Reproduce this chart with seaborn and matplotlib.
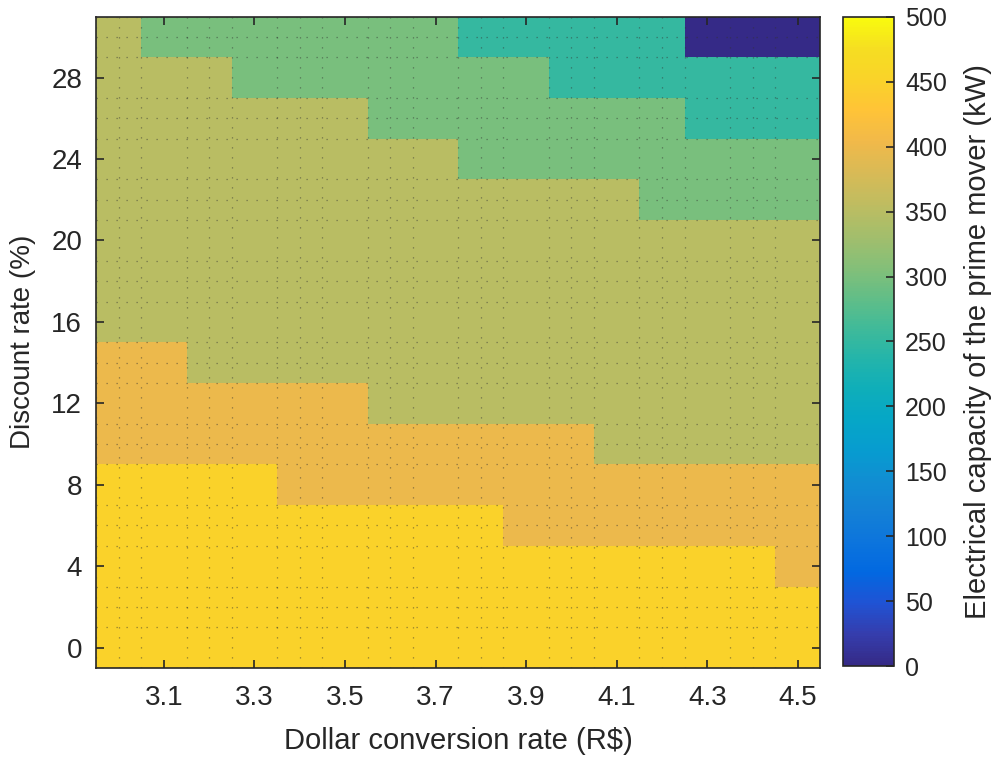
import matplotlib
matplotlib.use('Agg')
import matplotlib.pyplot as plt
import numpy as np
import pandas as pd
import seaborn as sns
from matplotlib.colors import LinearSegmentedColormap

# dollar conversion rate (columns) and discount rate (rows, top to bottom)
dollar_rate = [3.0, 3.1, 3.2, 3.3, 3.4, 3.5, 3.6, 3.7, 3.8, 3.9, 4.0, 4.1, 4.2, 4.3, 4.4, 4.5]
discount_rate = [30, 28, 26, 24, 22, 20, 18, 16, 14, 12, 10, 8, 6, 4, 2, 0]

# electrical capacity of the prime mover (kW), one row per discount rate
capacity_kw = [
    [350, 300, 300, 300, 300, 300, 300, 300, 250, 250, 250, 250, 250, 0, 0, 0],
    [350, 350, 350, 300, 300, 300, 300, 300, 300, 300, 250, 250, 250, 250, 250, 250],
    [350, 350, 350, 350, 350, 350, 300, 300, 300, 300, 300, 300, 300, 250, 250, 250],
    [350, 350, 350, 350, 350, 350, 350, 350, 300, 300, 300, 300, 300, 300, 300, 300],
    [350, 350, 350, 350, 350, 350, 350, 350, 350, 350, 350, 350, 300, 300, 300, 300],
    [350, 350, 350, 350, 350, 350, 350, 350, 350, 350, 350, 350, 350, 350, 350, 350],
    [350, 350, 350, 350, 350, 350, 350, 350, 350, 350, 350, 350, 350, 350, 350, 350],
    [350, 350, 350, 350, 350, 350, 350, 350, 350, 350, 350, 350, 350, 350, 350, 350],
    [400, 400, 350, 350, 350, 350, 350, 350, 350, 350, 350, 350, 350, 350, 350, 350],
    [400, 400, 400, 400, 400, 400, 350, 350, 350, 350, 350, 350, 350, 350, 350, 350],
    [400, 400, 400, 400, 400, 400, 400, 400, 400, 400, 400, 350, 350, 350, 350, 350],
    [450, 450, 450, 450, 400, 400, 400, 400, 400, 400, 400, 400, 400, 400, 400, 400],
    [450, 450, 450, 450, 450, 450, 450, 450, 450, 400, 400, 400, 400, 400, 400, 400],
    [450, 450, 450, 450, 450, 450, 450, 450, 450, 450, 450, 450, 450, 450, 450, 400],
    [450, 450, 450, 450, 450, 450, 450, 450, 450, 450, 450, 450, 450, 450, 450, 450],
    [450, 450, 450, 450, 450, 450, 450, 450, 450, 450, 450, 450, 450, 450, 450, 450],
]

x_tick_values = [3.1, 3.3, 3.5, 3.7, 3.9, 4.1, 4.3, 4.5]
y_tick_values = [0, 4, 8, 12, 16, 20, 24, 28]
cbar_ticks = [0, 50, 100, 150, 200, 250, 300, 350, 400, 450, 500]

# MATLAB parula, every third entry of the 64-colour table
parula_rgb = [
    (0.2081, 0.1663, 0.5292), (0.2081, 0.2386, 0.6771), (0.1253, 0.3242, 0.8303),
    (0.0060, 0.4086, 0.8828), (0.0498, 0.4586, 0.8641), (0.0779, 0.5040, 0.8384),
    (0.0641, 0.5570, 0.8240), (0.0265, 0.6137, 0.8135), (0.0228, 0.6535, 0.7768),
    (0.0590, 0.6838, 0.7254), (0.1453, 0.7098, 0.6646), (0.2586, 0.7317, 0.5954),
    (0.3953, 0.7459, 0.5244), (0.5300, 0.7491, 0.4661), (0.6473, 0.7456, 0.4188),
    (0.7525, 0.7384, 0.3768), (0.8507, 0.7299, 0.3360), (0.9450, 0.7261, 0.2886),
    (0.9990, 0.7653, 0.2164), (0.9789, 0.8271, 0.1633), (0.9626, 0.8705, 0.1309),
    (0.9763, 0.9831, 0.0538)]
parula_pos = [min(i * 3, 63) / 63 for i in range(len(parula_rgb))]
parula = LinearSegmentedColormap.from_list('parula', list(zip(parula_pos, parula_rgb)), N=256)

plt.rcParams['font.family'] = ['Liberation Sans', 'DejaVu Sans']
text_col = '#262626'

df = pd.DataFrame(capacity_kw, index=discount_rate, columns=dollar_rate)

fig = plt.figure(figsize=(10.02, 7.65), dpi=100)
ax = fig.add_axes([0.0958, 0.1268, 0.723, 0.8516])
cax = fig.add_axes([0.8413, 0.1294, 0.0509, 0.8484])

sns.heatmap(df, ax=ax, cmap=parula, vmin=0, vmax=500, cbar_ax=cax,
            xticklabels=False, yticklabels=False, cbar_kws={'ticks': cbar_ticks})

# ticks at cell centres
xpos = [dollar_rate.index(v) + 0.5 for v in x_tick_values]
ypos = [discount_rate.index(v) + 0.5 for v in y_tick_values]
ax.set_xticks(xpos)
ax.set_xticklabels([f'{v:.1f}' for v in x_tick_values])
ax.set_yticks(ypos)
ax.set_yticklabels([str(v) for v in y_tick_values], rotation=0)

# dotted minor grid at half cell spacing
ax.set_xticks(np.arange(0, len(dollar_rate) + 0.01, 0.5), minor=True)
ax.set_yticks(np.arange(0, len(discount_rate) + 0.01, 0.5), minor=True)
ax.grid(which='minor', color='#333333', linestyle=(0, (1, 7)), linewidth=0.9, alpha=0.55)
ax.grid(which='major', visible=False)
ax.set_axisbelow(False)
ax.tick_params(which='minor', length=0)
ax.tick_params(which='major', direction='in', length=6, width=1.2, color=text_col,
               top=True, right=True, labelsize=20, labelcolor=text_col)
ax.tick_params(axis='x', pad=12)
ax.tick_params(axis='y', pad=10)

for s in ax.spines.values():
    s.set_visible(True)
    s.set_color(text_col)
    s.set_linewidth(1.2)

ax.set_xlabel('Dollar conversion rate (R$)', fontsize=21, color=text_col, labelpad=12)
ax.set_ylabel('Discount rate (%)', fontsize=20, color=text_col, labelpad=11)

cbar = ax.collections[0].colorbar
cbar.outline.set_visible(True)
cbar.outline.set_edgecolor(text_col)
cbar.outline.set_linewidth(1.2)
cax.tick_params(direction='in', length=6, width=1.2, color=text_col,
                labelsize=18, labelcolor=text_col, pad=8)
cbar.set_label('Electrical capacity of the prime mover (kW)', fontsize=21,
               color=text_col, labelpad=12)

fig.savefig('out.png', dpi=100)
